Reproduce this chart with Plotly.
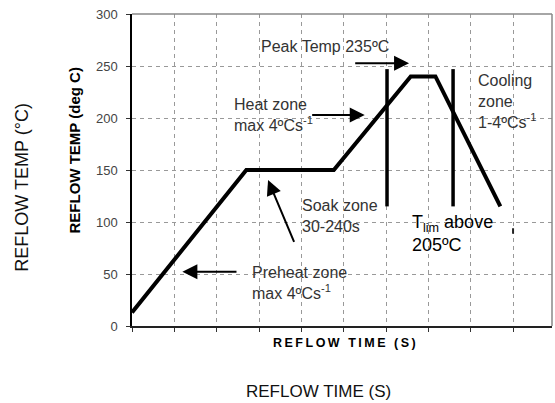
import plotly.graph_objects as go

# ---- data ----
time_s = [0, 81, 143, 197.5, 215, 261]          # reflow profile time (s)
temp_c = [13, 150, 150, 240, 240, 115]          # reflow profile temperature (deg C)
tlim_times = [180.7, 227.5]                      # T_lim window markers (s)
tlim_low, tlim_high = 115, 247                   # marker vertical extent (deg C)
stray_time = [270, 270]                          # small stray mark in the source image
stray_temp = [88.7, 94.0]
y_ticks = [0, 50, 100, 150, 200, 250, 300]
x_ticks = [0, 30, 60, 90, 120, 150, 180, 210, 240, 270]

# label text
peak_label = "Peak Temp 235ºC"
heat_label = "Heat zone<br>max 4ºCs<sup>-1</sup>"
cool_label = "Cooling<br>zone<br>1-4ºCs<sup>-1</sup>"
soak_label = "Soak zone<br>30-240s"
pre_label = "Preheat zone<br>max 4ºCs<sup>-1</sup>"
tlim_label = "T<sub>lim</sub> above<br>205ºC"

fig = go.Figure()

fig.add_trace(go.Scatter(x=time_s, y=temp_c, mode="lines",
                         line=dict(color="black", width=4),
                         hoverinfo="skip", showlegend=False))
for t in tlim_times:
    fig.add_trace(go.Scatter(x=[t, t], y=[tlim_low, tlim_high], mode="lines",
                             line=dict(color="black", width=3.5),
                             hoverinfo="skip", showlegend=False))
fig.add_trace(go.Scatter(x=stray_time, y=stray_temp, mode="lines",
                         line=dict(color="#222", width=2),
                         hoverinfo="skip", showlegend=False))

FONT = "Liberation Sans, Arial, sans-serif"
txt = dict(family=FONT, size=16, color="#333")

def label(x, y, text, font=txt):
    fig.add_annotation(x=x, y=y, text=text, showarrow=False, xanchor="left",
                       yanchor="middle", align="left", font=font)

def arrow(x, y, ax, ay):
    fig.add_annotation(x=x, y=y, ax=ax, ay=ay, xref="x", yref="y", axref="x", ayref="y",
                       text="", showarrow=True, arrowhead=2, arrowsize=1.5,
                       arrowwidth=2, arrowcolor="black")

label(90.0, 269.2, peak_label)
label(70.9, 203.0, heat_label)
label(243.6, 216.3, cool_label)
label(118.9, 105.5, soak_label)
label(83.9, 41.5, pre_label)
label(196.8, 88.5, tlim_label, dict(family=FONT, size=18, color="black"))

arrow(196.3, 252.6, 157.1, 252.6)   # peak
arrow(164.9, 202.9, 126.6, 202.9)   # heat zone
arrow(96.4, 140.4, 115.3, 79.5)     # soak
arrow(35.7, 52.2, 75.1, 52.2)       # preheat

# axis titles
ts = "\u2009"
gap = "\u2009\u00a0\u2009"
xbold = ts.join("REFLOW") + gap + ts.join("TIME") + gap + ts.join("(S)")

def title(x, y, text, font, angle=0):
    fig.add_annotation(xref="paper", yref="paper", x=x, y=y, text=text,
                       xanchor="center", yanchor="middle", textangle=angle,
                       showarrow=False, font=font)

title(0.505, -0.0554, xbold, dict(family=FONT, size=12.5, color="black", weight="bold"))
title(-0.137, 0.564, "REFLOW TEMP (deg C)", dict(family=FONT, size=15, color="black", weight="bold"), -90)
title(-0.262, 0.4465, "REFLOW TEMP (°C)", dict(family=FONT, size=18, color="#111"), -90)
title(0.4445, -0.2106, "REFLOW TIME (S)", dict(family=FONT, size=17, color="#111"))

# top/right frame in grey
fig.add_shape(type="line", xref="paper", yref="paper", x0=0, x1=1, y0=1, y1=1,
              line=dict(color="#888", width=1.5))
fig.add_shape(type="line", xref="paper", yref="paper", x0=1, x1=1, y0=0, y1=1,
              line=dict(color="#888", width=1.5))

grid = dict(showgrid=True, gridcolor="#999", gridwidth=1, griddash="4px,4px")
fig.update_xaxes(range=[0, 297.6], tickvals=x_ticks, showticklabels=False,
                 ticks="outside", ticklen=4, tickcolor="#333",
                 showline=True, linecolor="#222", linewidth=1.5, zeroline=False, **grid)
fig.update_yaxes(range=[0, 300], tickvals=y_ticks, ticks="outside", ticklen=4,
                 tickcolor="#333", ticklabelstandoff=6,
                 tickfont=dict(family=FONT, size=13, color="#444"),
                 showline=True, linecolor="black", linewidth=1.5, zeroline=False, **grid)

fig.update_layout(width=555, height=403, margin=dict(l=132, r=3, t=14, b=77),
                  plot_bgcolor="white", paper_bgcolor="white", showlegend=False)

fig.write_html("out.html", config={"displayModeBar": False},
               post_script="document.body.style.margin='0';document.body.style.overflow='hidden';")
